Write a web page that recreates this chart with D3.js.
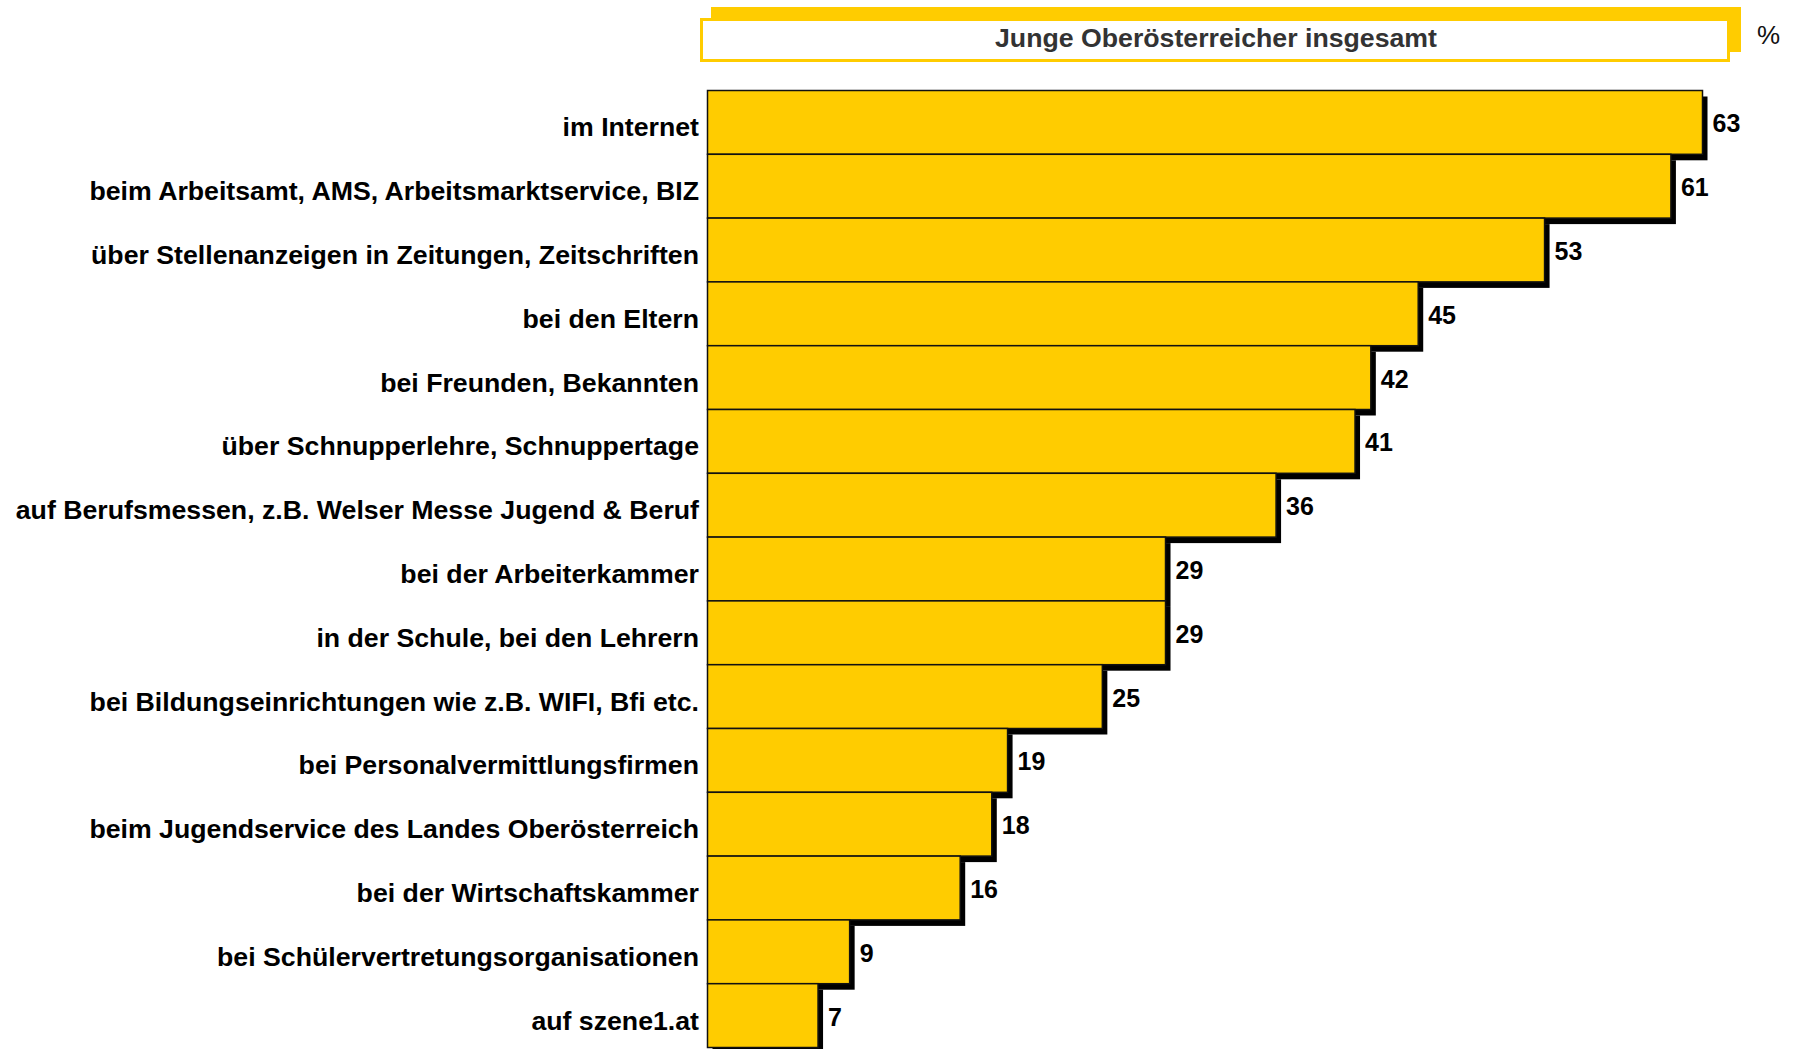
<!DOCTYPE html>
<html>
  <head>
    <meta charset="utf-8">
    <script src="https://cdn.jsdelivr.net/npm/d3@7"></script>
    <style>
      body { margin: 0; background: white; }
      svg { display: block; }
    </style>
  </head>
  <body>
    <script>
      const categories = [
        'im Internet',
        'beim Arbeitsamt, AMS, Arbeitsmarktservice, BIZ',
        'über Stellenanzeigen in Zeitungen, Zeitschriften',
        'bei den Eltern',
        'bei Freunden, Bekannten',
        'über Schnupperlehre, Schnuppertage',
        'auf Berufsmessen, z.B. Welser Messe Jugend & Beruf',
        'bei der Arbeiterkammer',
        'in der Schule, bei den Lehrern',
        'bei Bildungseinrichtungen wie z.B. WIFI, Bfi etc.',
        'bei Personalvermittlungsfirmen',
        'beim Jugendservice des Landes Oberösterreich',
        'bei der Wirtschaftskammer',
        'bei Schülervertretungsorganisationen',
        'auf szene1.at'
      ]
      const values = [63, 61, 53, 45, 42, 41, 36, 29, 29, 25, 19, 18, 16, 9, 7]
      const seriesName = 'Junge Oberösterreicher insgesamt'
      const unitLabel = '%'

      const W = 1793, H = 1049
      const yellow = '#FFCC00'
      const font = '"Liberation Sans", Arial, sans-serif'

      const svg = d3.select('body').append('svg')
        .attr('width', W).attr('height', H)

      const x = d3.scaleLinear().domain([0, 63]).range([707.5, 1702.5])
      const y = d3.scaleBand().domain(categories).range([90.5, 1047.5]).padding(0)

      // header box with offset yellow shadow
      svg.append('rect')
        .attr('x', 711).attr('y', 7).attr('width', 1030).attr('height', 45)
        .attr('fill', yellow)
      svg.append('rect')
        .attr('x', 701.5).attr('y', 19.5).attr('width', 1027).attr('height', 41)
        .attr('fill', 'white').attr('stroke', yellow).attr('stroke-width', 3)
      svg.append('text')
        .attr('x', 1216).attr('y', 47)
        .attr('text-anchor', 'middle')
        .attr('font-family', font).attr('font-weight', 'bold').attr('font-size', 26.7)
        .attr('fill', '#333')
        .text(seriesName)
      svg.append('text')
        .attr('x', 1757).attr('y', 44)
        .attr('font-family', font).attr('font-size', 26)
        .attr('fill', '#111')
        .text(unitLabel)

      const data = categories.map((c, i) => ({cat: c, val: values[i]}))

      const rows = svg.selectAll('g.row').data(data).join('g').attr('class', 'row')

      rows.append('rect')
        .attr('x', x(0) + 5)
        .attr('y', d => y(d.cat) + 6)
        .attr('width', d => x(d.val) - x(0))
        .attr('height', y.bandwidth())
        .attr('fill', '#000')

      rows.append('rect')
        .attr('x', x(0))
        .attr('y', d => y(d.cat))
        .attr('width', d => x(d.val) - x(0))
        .attr('height', y.bandwidth())
        .attr('fill', yellow)
        .attr('stroke', '#111')
        .attr('stroke-width', 1.5)

      svg.selectAll('text.cat').data(data).join('text')
        .attr('class', 'cat')
        .attr('x', 699)
        .attr('y', d => y(d.cat) + y.bandwidth() / 2 + 14)
        .attr('text-anchor', 'end')
        .attr('font-family', font).attr('font-weight', 'bold').attr('font-size', 26.7)
        .attr('fill', '#000')
        .text(d => d.cat)

      svg.selectAll('text.val').data(data).join('text')
        .attr('class', 'val')
        .attr('x', d => x(d.val) + 10)
        .attr('y', d => y(d.cat) + y.bandwidth() / 2 + 10)
        .attr('font-family', font).attr('font-weight', 'bold').attr('font-size', 25)
        .attr('fill', '#000')
        .text(d => d.val)
    </script>
  </body>
</html>
